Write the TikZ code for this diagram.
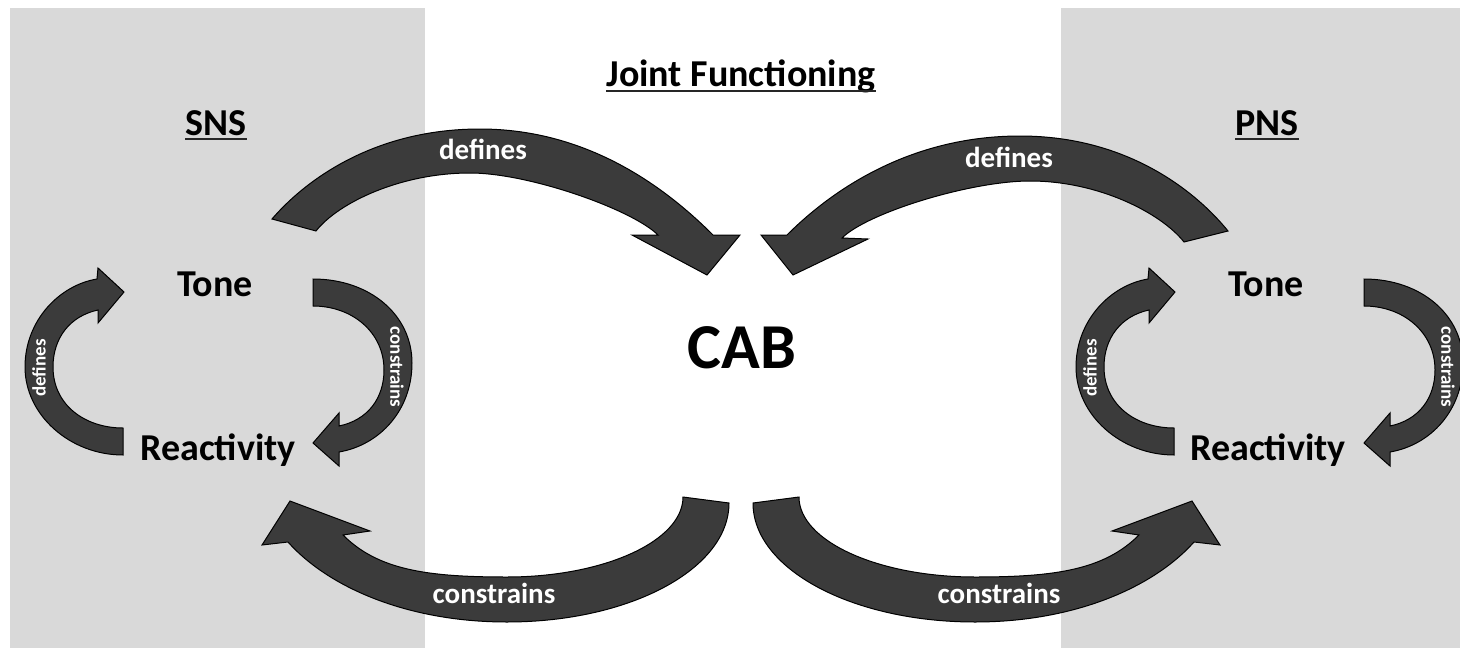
\documentclass[tikz,border=0pt]{standalone}
\usepackage{fontspec}
\setmainfont{Carlito}
\definecolor{panel}{HTML}{D9D9D9}
\definecolor{arrowfill}{HTML}{3B3B3B}
\tikzset{
  blockarrow/.style={fill=arrowfill, draw=black, line width=1pt, line join=miter},
  heading/.style={font=\fontsize{38}{40}\selectfont\bfseries, inner sep=0pt, anchor=base},
  arrowlabel/.style={text=white, font=\fontsize{29}{30}\selectfont\bfseries, inner sep=0pt, anchor=base},
  looplabel/.style={text=white, font=\fontsize{19}{20}\selectfont\bfseries, inner sep=0pt},
  uline/.style={line width=1.8pt, draw=black!85}
}
% the two small feedback loops of one nervous system (Tone <-> Reactivity)
\newcommand{\loopArrows}{%
  % "defines": from Reactivity round the left up to Tone
  \filldraw[blockarrow]
    (123,-455) .. controls (70,-455) and (25,-415) .. (25,-367)
    .. controls (25,-320) and (60,-285) .. (97,-279)
    -- (98,-268) -- (124,-292) -- (98,-323) -- (98,-310)
    .. controls (70,-316) and (53,-338) .. (53,-367)
    .. controls (53,-405) and (85,-428) .. (123,-428)
    -- cycle;
  % "constrains": from Tone round the right down to Reactivity
  \filldraw[blockarrow]
    (313,-279) .. controls (370,-279) and (412,-315) .. (412,-363)
    .. controls (412,-410) and (380,-445) .. (339,-452)
    -- (339,-466) -- (313,-443) -- (339,-413) -- (339,-426)
    .. controls (368,-420) and (384,-398) .. (384,-370)
    .. controls (384,-332) and (352,-306) .. (313,-306)
    -- cycle;
}
\begin{document}
\begin{tikzpicture}[x=1pt,y=1pt]
\useasboundingbox (0,0) rectangle (1460,-648);

% background panels
\fill[panel] (10,-8) rectangle (425,-648);
\fill[panel] (1061,-8) rectangle (1460,-648);

% SNS loops and PNS loops
\loopArrows
\begin{scope}[xshift=1051pt]
  \loopArrows
\end{scope}

% SNS Tone defines CAB
\filldraw[blockarrow]
  (272,-219) .. controls (302,-184) and (370,-129) .. (480,-129)
  .. controls (590,-129) and (668,-190) .. (713,-235)
  -- (740,-235) -- (707,-275) -- (632,-235) -- (658,-235)
  .. controls (633,-210) and (530,-173) .. (470,-173)
  .. controls (400,-173) and (338,-203) .. (316,-231)
  -- cycle;

% PNS Tone defines CAB
\filldraw[blockarrow]
  (1228,-231) .. controls (1198,-194) and (1130,-136) .. (1020,-136)
  .. controls (910,-136) and (832,-190) .. (787,-235)
  -- (761,-235) -- (793,-275) -- (868,-239) -- (842,-238)
  .. controls (867,-213) and (970,-181) .. (1030,-181)
  .. controls (1100,-181) and (1162,-214) .. (1184,-242)
  -- cycle;

% CAB constrains SNS Reactivity
\filldraw[blockarrow]
  (729,-503) .. controls (729,-569) and (630,-622) .. (507,-622)
  .. controls (407,-622) and (328,-587) .. (288,-542)
  -- (262,-545) -- (290,-501) -- (370,-531) -- (343,-535)
  .. controls (378,-570) and (427,-577) .. (507,-577)
  .. controls (604,-577) and (683,-541) .. (683,-497)
  -- cycle;

% CAB constrains PNS Reactivity
\filldraw[blockarrow]
  (753,-503) .. controls (753,-569) and (852,-622) .. (975,-622)
  .. controls (1075,-622) and (1154,-587) .. (1194,-542)
  -- (1220,-545) -- (1192,-501) -- (1112,-531) -- (1139,-535)
  .. controls (1104,-570) and (1055,-577) .. (975,-577)
  .. controls (878,-577) and (799,-541) .. (799,-497)
  -- cycle;

% headings
\node[heading] (sns) at (216,-135) {SNS};
\draw[uline] ([yshift=-4pt]sns.base west) -- ([yshift=-4pt]sns.base east);
\node[heading] (pns) at (1267,-135) {PNS};
\draw[uline] ([yshift=-4pt]pns.base west) -- ([yshift=-4pt]pns.base east);
\node[heading] (joint) at (741,-86) {Joint Functioning};
\draw[uline] ([yshift=-5pt]joint.base west) -- ([yshift=-5pt]joint.base east);

% states
\node[heading] (toneL) at (215,-296) {Tone};
\node[heading] (reactL) at (218,-460) {Reactivity};
\node[heading] (toneR) at (1266,-296) {Tone};
\node[heading] (reactR) at (1268,-460) {Reactivity};
\node[font=\fontsize{64}{66}\selectfont\bfseries, inner sep=0pt, anchor=base] (cab) at (742,-368) {CAB};

% labels on the large arrows
\node[arrowlabel] (defTL) at (483,-159) {defines};
\node[arrowlabel] (defTR) at (1009,-167) {defines};
\node[arrowlabel] (conBL) at (494,-603) {constrains};
\node[arrowlabel] (conBR) at (999,-603) {constrains};

% labels on the small loops
\node[looplabel, rotate=90] (defLL) at (39,-368) {defines};
\node[looplabel, rotate=-90] (conLL) at (397,-367) {constrains};
\node[looplabel, rotate=90] (defRL) at (1090,-368) {defines};
\node[looplabel, rotate=-90] (conRL) at (1448,-367) {constrains};
\end{tikzpicture}
\end{document}
